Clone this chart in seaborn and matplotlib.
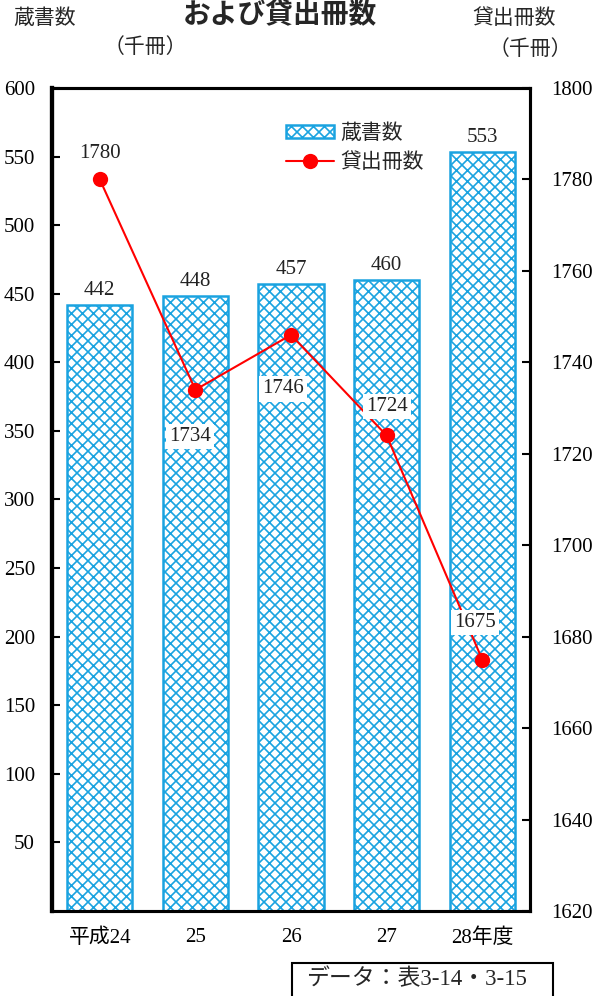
import matplotlib
matplotlib.use('Agg')
import matplotlib.pyplot as plt
from matplotlib.patches import Rectangle
import seaborn as sns

years = ['平成24', '25', '26', '27', '28年度']
books = [442, 448, 457, 460, 553]
loans = [1780, 1734, 1746, 1724, 1675]
# label offsets (px) for the loan labels
loan_offsets = [(0, 26), (-5, -47), (-8, -54), (0, 29), (-7, 37)]

# render at a higher dpi so the hatch cells come out about 11 px wide
DPI = 132
S = 100 / DPI
PX = 0.72 * S  # px -> points

sns.set_style('white')
plt.rcParams['font.family'] = ['Liberation Serif', 'Noto Sans CJK JP', 'DejaVu Sans']
plt.rcParams['hatch.linewidth'] = 1.2 * S

blue = '#1AA3E0'
fs = 15 * S

fig = plt.figure(figsize=(597 / DPI, 996 / DPI), dpi=DPI)
ax = fig.add_axes([52 / 597, 85 / 996, 478 / 597, 823 / 996])

sns.barplot(x=years, y=books, ax=ax, color='white', edgecolor=blue,
            linewidth=1.8 * S, width=0.68, saturation=1)
for p in ax.patches:
    p.set_hatch('xxxx')
    p.set_facecolor('white')
    p.set_edgecolor(blue)
    p.set_label('_nolegend_')
ax.patches[0].set_label('蔵書数')

ax.bar_label(ax.containers[0], labels=[str(v) for v in books], padding=5 * PX,
             fontsize=fs, color='#222222')
ax.set_ylim(0, 600)
ax.set_yticks(range(50, 601, 50))
ax.set_xlim(-0.5, 4.5)
ax.tick_params(axis='y', labelsize=fs, length=6 * S, width=1.5 * S, direction='in',
               left=True, colors='black', pad=17 * PX)
ax.tick_params(axis='x', labelsize=fs, length=0, pad=17 * PX, colors='black')
for s in ax.spines.values():
    s.set_linewidth(2.2 * S)
    s.set_color('black')
ax.spines['left'].set_linewidth(3 * S)

ax2 = ax.twinx()
sns.lineplot(x=list(range(len(loans))), y=loans, ax=ax2, color='red', marker='o',
             markersize=11 * S, markeredgewidth=0, linewidth=1.5 * S, label='貸出冊数',
             legend=False)
ax2.set_ylim(1620, 1800)
ax2.set_yticks(range(1620, 1801, 20))
ax2.tick_params(axis='y', labelsize=fs, length=6 * S, width=1.5 * S, direction='in',
                right=True, colors='black', pad=21 * PX)
ax2.set_xlim(-0.5, 4.5)
for s in ax2.spines.values():
    s.set_linewidth(2.2 * S)
    s.set_color('black')
ax2.spines['left'].set_linewidth(3 * S)

for i, (v, off) in enumerate(zip(loans, loan_offsets)):
    ax2.annotate(str(v), (i, v), xytext=(off[0] * PX, off[1] * PX),
                 textcoords='offset points', ha='center', va='center', fontsize=fs,
                 color='#222222',
                 bbox=dict(boxstyle='square,pad=0.15', fc='white', ec='none'))

h1, l1 = ax.get_legend_handles_labels()
h2, l2 = ax2.get_legend_handles_labels()
ax2.legend(h1 + h2, l1 + l2, loc='upper left', bbox_to_anchor=(0.45, 0.979),
           frameon=False, fontsize=fs, handlelength=2.3, handleheight=0.55,
           handletextpad=0.3, labelspacing=0.45)

fig.text(280 / 597, 1 - 15 / 996, 'および貸出冊数', ha='center', va='center',
         fontsize=20 * S, fontweight='bold', family=['Noto Sans CJK JP'])
fig.text(45 / 597, 1 - 19 / 996, '蔵書数', ha='center', va='center', fontsize=fs)
fig.text(145 / 597, 1 - 48 / 996, '（千冊）', ha='center', va='center', fontsize=fs)
fig.text(514 / 597, 1 - 19 / 996, '貸出冊数', ha='center', va='center', fontsize=fs)
fig.text(530 / 597, 1 - 50 / 996, '（千冊）', ha='center', va='center', fontsize=fs)

# source note box, running off the bottom edge as in the original
fig.add_artist(Rectangle((292 / 597, -10 / 996), 261 / 597, 43 / 996,
                         transform=fig.transFigure, fc='white', ec='black',
                         lw=1.5 * S))
fig.text(416 / 597, 1 - 979 / 996, 'データ：表3-14・3-15', ha='center', va='center',
         fontsize=16.5 * S)

fig.savefig('out.png', dpi=DPI)
